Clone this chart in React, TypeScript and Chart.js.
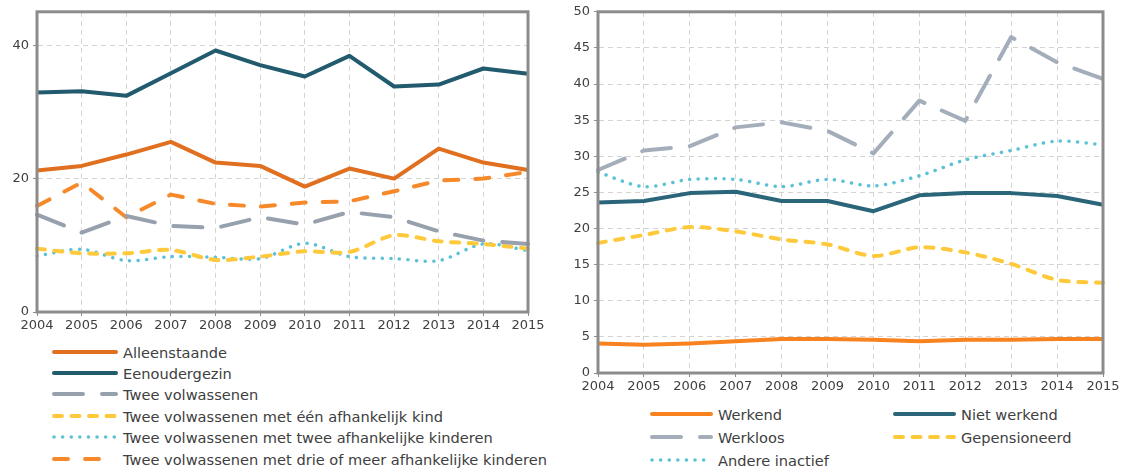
import React, { useEffect, useRef } from "react";
import { Chart, registerables } from "chart.js";

Chart.register(...registerables);

const years = ["2004", "2005", "2006", "2007", "2008", "2009", "2010", "2011", "2012", "2013", "2014", "2015"];

// Left chart (household type)
const alleenstaande = [21.2, 21.9, 23.6, 25.5, 22.4, 21.9, 18.8, 21.5, 20.0, 24.5, 22.4, 21.3];
const eenoudergezin = [32.9, 33.1, 32.4, 35.8, 39.2, 37.0, 35.3, 38.4, 33.8, 34.1, 36.5, 35.7];
const tweeVolwassenen = [14.6, 11.9, 14.4, 12.9, 12.6, 14.2, 13.1, 15.0, 14.2, 12.1, 10.7, 10.2];
const eenKind = [9.5, 8.8, 8.8, 9.3, 7.8, 8.3, 9.1, 9.0, 11.5, 10.6, 10.2, 9.5];
const tweeKinderen = [8.4, 9.4, 7.7, 8.3, 8.2, 8.0, 10.3, 8.3, 8.0, 7.7, 10.2, 9.2];
const drieOfMeer = [15.9, 19.4, 14.2, 17.6, 16.2, 15.8, 16.4, 16.6, 18.1, 19.7, 20.0, 21.0];
const leftTicks = [0, 20, 40];

// Right chart (activity status)
const werkend = [4.1, 3.9, 4.1, 4.4, 4.7, 4.7, 4.6, 4.4, 4.6, 4.6, 4.7, 4.7];
const nietWerkend = [23.6, 23.8, 24.9, 25.1, 23.8, 23.8, 22.4, 24.6, 24.9, 24.9, 24.5, 23.3];
const werkloos = [28.1, 30.8, 31.4, 34.0, 34.7, 33.5, 30.4, 37.7, 34.9, 46.5, 43.0, 40.7];
const gepensioneerd = [18.0, 19.1, 20.2, 19.6, 18.5, 17.8, 16.2, 17.4, 16.7, 15.1, 12.9, 12.5];
const andereInactief = [27.8, 25.8, 26.8, 26.8, 25.8, 26.8, 25.9, 27.3, 29.5, 30.8, 32.1, 31.6];

const FONT = "'DejaVu Sans', sans-serif";
const TEXT = "#404040";

type Style = { color: string; dash: number[]; width: number; tension: number };

const S_SOLID = (c: string): Style => ({ color: c, dash: [], width: 4, tension: 0 });
const S_LONG = (c: string): Style => ({ color: c, dash: [29, 19], width: 4, tension: 0 });
const S_SHORT = (c: string): Style => ({ color: c, dash: [8, 9.5], width: 4, tension: 0.3 });
const S_DOT = (c: string): Style => ({ color: c, dash: [0.1, 8.5], width: 3.5, tension: 0.3 });
const S_MED = (c: string): Style => ({ color: c, dash: [14, 17], width: 4, tension: 0 });

const leftSeries = [
  { label: "Alleenstaande", data: alleenstaande, style: S_SOLID("#E0701F") },
  { label: "Eenoudergezin", data: eenoudergezin, style: S_SOLID("#225A6E") },
  { label: "Twee volwassenen", data: tweeVolwassenen, style: S_LONG("#97A1AD") },
  { label: "Twee volwassenen met één afhankelijk kind", data: eenKind, style: S_SHORT("#FFC93C") },
  { label: "Twee volwassenen met twee afhankelijke kinderen", data: tweeKinderen, style: S_DOT("#5BC2D6") },
  { label: "Twee volwassenen met drie of meer afhankelijke kinderen", data: drieOfMeer, style: S_MED("#F68A2B") },
];

const rightSeries = [
  { label: "Werkend", data: werkend, style: S_SOLID("#F7821F") },
  { label: "Niet werkend", data: nietWerkend, style: S_SOLID("#2A6579") },
  { label: "Werkloos", data: werkloos, style: S_LONG("#A4AEBA") },
  { label: "Gepensioneerd", data: gepensioneerd, style: S_SHORT("#FFC93C") },
  { label: "Andere inactief", data: andereInactief, style: S_DOT("#5BC2D6") },
];

const framePlugin = {
  id: "frame",
  afterDatasetsDraw(chart: any) {
    const { ctx, chartArea } = chart;
    ctx.save();
    ctx.strokeStyle = "#8C8C8C";
    ctx.lineWidth = 3;
    ctx.setLineDash([]);
    ctx.strokeRect(chartArea.left, chartArea.top, chartArea.right - chartArea.left, chartArea.bottom - chartArea.top);
    ctx.restore();
  },
};

function makeChart(
  canvas: HTMLCanvasElement,
  series: typeof leftSeries,
  yMax: number,
  yStep: number,
  yTicks: number[] | null,
  yWidth: number,
  xHeight: number,
  padding: { left: number; right: number; top: number; bottom: number }
) {
  return new Chart(canvas, {
    type: "line",
    data: {
      labels: years,
      datasets: series.map((s) => ({
        label: s.label,
        data: s.data,
        borderColor: s.style.color,
        backgroundColor: s.style.color,
        borderWidth: s.style.width,
        borderDash: s.style.dash,
        borderCapStyle: s.style.dash.length ? "round" : "butt",
        borderJoinStyle: "round",
        tension: s.style.tension,
        pointRadius: 0,
        fill: false,
      })),
    },
    options: {
      animation: false,
      responsive: false,
      maintainAspectRatio: false,
      layout: { padding },
      plugins: { legend: { display: false }, tooltip: { enabled: false } },
      scales: {
        x: {
          offset: false,
          grid: {
            color: "#D3D3D3",
            lineWidth: 1,
            drawTicks: true,
            tickLength: 4,
            tickColor: "#8C8C8C",
          },
          border: { display: true, color: "#8C8C8C", width: 1, dash: [5, 4] },
          ticks: {
            color: TEXT,
            font: { family: FONT, size: 13 },
            maxRotation: 0,
            autoSkip: false,
            padding: 2,
          },
          afterFit(scale: any) {
            scale.height = xHeight;
          },
        },
        y: {
          min: 0,
          max: yMax,
          grid: {
            color: "#D3D3D3",
            lineWidth: 1,
            drawTicks: true,
            tickLength: 4,
            tickColor: "#8C8C8C",
          },
          border: { display: true, color: "#8C8C8C", width: 1, dash: [5, 4] },
          afterBuildTicks(scale: any) {
            if (yTicks) scale.ticks = yTicks.map((v) => ({ value: v }));
          },
          ticks: {
            stepSize: yStep,
            color: TEXT,
            font: { family: FONT, size: 13 },
            padding: 4,
          },
          afterFit(scale: any) {
            scale.width = yWidth;
          },
        },
      },
    },
    plugins: [framePlugin],
  } as any);
}

function LegendSample({ s, w }: { s: Style; w: number }) {
  const dash = s.dash.length ? s.dash.join(" ") : undefined;
  return (
    <svg width={w} height={8} style={{ display: "block" }}>
      <line
        x1={2}
        y1={4}
        x2={w - 2}
        y2={4}
        stroke={s.color}
        strokeWidth={s.width}
        strokeDasharray={dash}
        strokeLinecap="round"
      />
    </svg>
  );
}

function LegendItem({ x, y, s, label, w }: { x: number; y: number; s: Style; label: string; w: number }) {
  return (
    <div
      style={{
        position: "absolute",
        left: x,
        top: y - 10,
        height: 20,
        display: "flex",
        alignItems: "center",
        whiteSpace: "nowrap",
        fontFamily: FONT,
        fontSize: 14.6,
        color: TEXT,
      }}
    >
      <LegendSample s={s} w={w} />
      <span style={{ marginLeft: 5 }}>{label}</span>
    </div>
  );
}

export default function App() {
  const leftRef = useRef<HTMLCanvasElement>(null);
  const rightRef = useRef<HTMLCanvasElement>(null);

  useEffect(() => {
    const c1 = makeChart(leftRef.current!, leftSeries, 45, 20, leftTicks, 37, 28, {
      left: 0,
      right: 32,
      top: 8,
      bottom: 0,
    });
    const c2 = makeChart(rightRef.current!, rightSeries, 50, 5, null, 38, 27, {
      left: 0,
      right: 20,
      top: 10,
      bottom: 0,
    });
    return () => {
      c1.destroy();
      c2.destroy();
    };
  }, []);

  const leftRows = [352, 373, 394, 416, 437, 459];
  const rightPos = [
    [650, 414],
    [893, 414],
    [650, 437],
    [893, 437],
    [650, 460],
  ];

  return (
    <div style={{ position: "fixed", left: 0, top: 0, width: 1123, height: 473, background: "#fff", overflow: "hidden" }}>
      <canvas ref={leftRef} width={560} height={340} style={{ position: "absolute", left: 0, top: 0 }} />
      <canvas ref={rightRef} width={563} height={400} style={{ position: "absolute", left: 560, top: 0 }} />
      {leftSeries.map((s, i) => (
        <LegendItem key={s.label} x={52} y={leftRows[i]} s={s.style} label={s.label} w={66} />
      ))}
      {rightSeries.map((s, i) => (
        <LegendItem key={s.label} x={rightPos[i][0]} y={rightPos[i][1]} s={s.style} label={s.label} w={63} />
      ))}
    </div>
  );
}
